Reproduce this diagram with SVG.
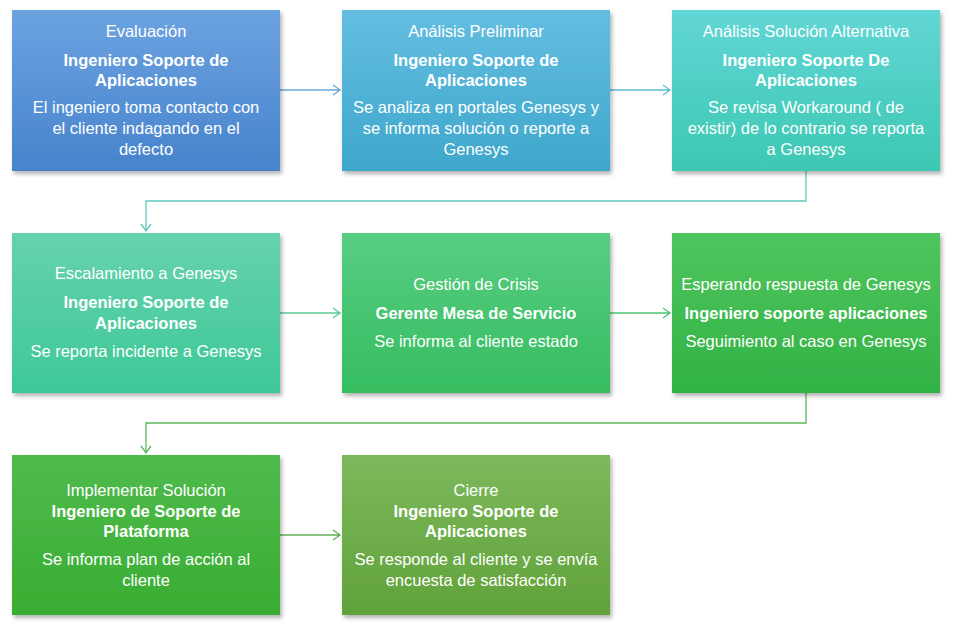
<svg xmlns="http://www.w3.org/2000/svg" width="963" height="627" viewBox="0 0 963 627">
<style>
text{font-family:"Liberation Sans",Arial,sans-serif;font-size:16.5px;fill:#fff;text-anchor:middle}
.b{font-weight:bold}
.c{fill:none;stroke-width:1.3}
</style>
<defs>
<filter id="sh" x="-5%" y="-5%" width="115%" height="120%"><feDropShadow dx="2" dy="3" stdDeviation="2" flood-color="#000" flood-opacity="0.3"/></filter>
<linearGradient id="g1" x1="0" y1="0" x2="0" y2="1"><stop offset="0" stop-color="#6ca3e1"/><stop offset="1" stop-color="#4783cc"/></linearGradient>
<linearGradient id="g2" x1="0" y1="0" x2="0" y2="1"><stop offset="0" stop-color="#64bee1"/><stop offset="1" stop-color="#3ea7cb"/></linearGradient>
<linearGradient id="g3" x1="0" y1="0" x2="0" y2="1"><stop offset="0" stop-color="#62d6d6"/><stop offset="1" stop-color="#3cc8b2"/></linearGradient>
<linearGradient id="g4" x1="0" y1="0" x2="0" y2="1"><stop offset="0" stop-color="#66d2ad"/><stop offset="1" stop-color="#3ec898"/></linearGradient>
<linearGradient id="g5" x1="0" y1="0" x2="0" y2="1"><stop offset="0" stop-color="#58cd82"/><stop offset="1" stop-color="#36bd60"/></linearGradient>
<linearGradient id="g6" x1="0" y1="0" x2="0" y2="1"><stop offset="0" stop-color="#50c55e"/><stop offset="1" stop-color="#31b244"/></linearGradient>
<linearGradient id="g7" x1="0" y1="0" x2="0" y2="1"><stop offset="0" stop-color="#4fbb4c"/><stop offset="1" stop-color="#39ad32"/></linearGradient>
<linearGradient id="g8" x1="0" y1="0" x2="0" y2="1"><stop offset="0" stop-color="#7cb95c"/><stop offset="1" stop-color="#61a23a"/></linearGradient>
</defs>
<rect width="963" height="627" fill="#fff"/>
<g id="connectors">
<path class="c" stroke="#6aa8d8" d="M280 90H340M333 85L340 90L333 95"/>
<path class="c" stroke="#5cbcd6" d="M610 90H670M663 85L670 90L663 95"/>
<path class="c" stroke="#5ecabf" d="M806 171V201H146V231M141 224L146 231L151 224"/>
<path class="c" stroke="#5ccc98" d="M280 313H340M333 308L340 313L333 318"/>
<path class="c" stroke="#4ec572" d="M610 313H670M663 308L670 313L663 318"/>
<path class="c" stroke="#5db85a" d="M806 393V423H146V453M141 446L146 453L151 446"/>
<path class="c" stroke="#62b055" d="M280 535H340M333 530L340 535L333 540"/>
</g>
<g id="n1"><rect x="12" y="10" width="268" height="161" fill="url(#g1)" filter="url(#sh)"/>
<text x="146" y="37">Evaluación</text><text class="b" x="146" y="66">Ingeniero Soporte de</text><text class="b" x="146" y="86">Aplicaciones</text>
<text x="146" y="113">El ingeniero toma contacto con</text><text x="146" y="134">el cliente indagando en el</text><text x="146" y="155">defecto</text></g>
<g id="n2"><rect x="342" y="10" width="268" height="161" fill="url(#g2)" filter="url(#sh)"/>
<text x="476" y="37">Análisis Preliminar</text><text class="b" x="476" y="66">Ingeniero Soporte de</text><text class="b" x="476" y="86">Aplicaciones</text>
<text x="476" y="113">Se analiza en portales Genesys y</text><text x="476" y="134">se informa solución o reporte a</text><text x="476" y="155">Genesys</text></g>
<g id="n3"><rect x="672" y="10" width="268" height="161" fill="url(#g3)" filter="url(#sh)"/>
<text x="806" y="37">Análisis Solución Alternativa</text><text class="b" x="806" y="66">Ingeniero Soporte De</text><text class="b" x="806" y="86">Aplicaciones</text>
<text x="806" y="113">Se revisa Workaround ( de</text><text x="806" y="134">existir) de lo contrario se reporta</text><text x="806" y="155">a Genesys</text></g>
<g id="n4"><rect x="12" y="233" width="268" height="160" fill="url(#g4)" filter="url(#sh)"/>
<text x="146" y="279">Escalamiento a Genesys</text><text class="b" x="146" y="308">Ingeniero Soporte de</text><text class="b" x="146" y="329">Aplicaciones</text>
<text x="146" y="357">Se reporta incidente a Genesys</text></g>
<g id="n5"><rect x="342" y="233" width="268" height="160" fill="url(#g5)" filter="url(#sh)"/>
<text x="476" y="290">Gestión de  Crisis</text><text class="b" x="476" y="319">Gerente Mesa de Servicio</text>
<text x="476" y="347">Se informa al cliente estado</text></g>
<g id="n6"><rect x="672" y="233" width="268" height="160" fill="url(#g6)" filter="url(#sh)"/>
<text x="806" y="290">Esperando respuesta de Genesys</text><text class="b" x="806" y="319">Ingeniero soporte aplicaciones</text>
<text x="806" y="347">Seguimiento al caso en Genesys</text></g>
<g id="n7"><rect x="12" y="455" width="268" height="160" fill="url(#g7)" filter="url(#sh)"/>
<text x="146" y="496">Implementar Solución</text><text class="b" x="146" y="517">Ingeniero de Soporte de</text><text class="b" x="146" y="537">Plataforma</text>
<text x="146" y="565">Se informa plan de acción al</text><text x="146" y="586">cliente</text></g>
<g id="n8"><rect x="342" y="455" width="268" height="160" fill="url(#g8)" filter="url(#sh)"/>
<text x="476" y="496">Cierre</text><text class="b" x="476" y="517">Ingeniero Soporte de</text><text class="b" x="476" y="537">Aplicaciones</text>
<text x="476" y="565">Se responde al cliente y se envía</text><text x="476" y="586">encuesta de satisfacción</text></g>
</svg>
